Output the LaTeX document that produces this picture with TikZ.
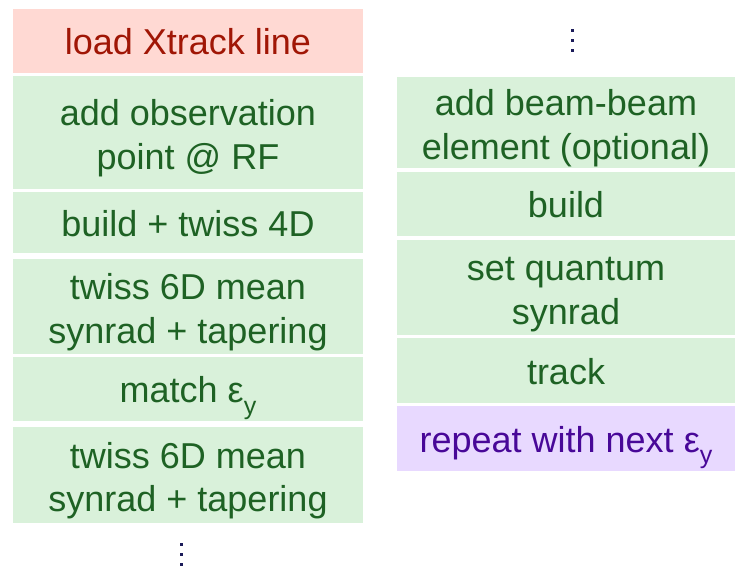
\documentclass[tikz,border=0pt]{standalone}
\usepackage{fontspec}
\setmainfont{Liberation Sans}
\definecolor{pinkfill}{RGB}{255,217,211}
\definecolor{redtext}{RGB}{160,22,5}
\definecolor{greenfill}{RGB}{217,241,218}
\definecolor{greentext}{RGB}{30,98,36}
\definecolor{lavfill}{RGB}{232,217,255}
\definecolor{purpletext}{RGB}{72,8,152}
\definecolor{dotnavy}{RGB}{28,28,90}
\newcommand{\epsy}{ε\raisebox{-0.32em}{\fontsize{25}{25}\selectfont y}}
\newcommand{\twol}[2]{\rule{0pt}{37pt}#1\\#2\rule[-7pt]{0pt}{7pt}}
\tikzset{
  stepbox/.style={rectangle, inner sep=0pt, align=center, font=\fontsize{36}{43.5}\selectfont},
  oneline/.style={text height=27pt, text depth=0pt},
  greenbox/.style={stepbox, fill=greenfill, text=greentext},
  leftcol/.style={minimum width=350pt},
  rightcol/.style={minimum width=338pt},
  dotsq/.style={fill=dotnavy}
}
\begin{document}
\begin{tikzpicture}[x=1pt,y=-1pt]
\useasboundingbox (0,0) rectangle (735,570);
% left column
\node[stepbox, oneline, leftcol, fill=pinkfill, text=redtext, minimum height=64pt] (l1) at (188,41) {load Xtrack line};
\node[greenbox, leftcol, minimum height=113pt] (l2) at (188,132.5) {\twol{add observation}{point @ RF}};
\node[greenbox, oneline, leftcol, minimum height=61pt] (l3) at (188,222.5) {build + twiss 4D};
\node[greenbox, leftcol, minimum height=95pt] (l4) at (188,306.5) {\twol{twiss 6D mean}{synrad + tapering}};
\node[greenbox, oneline, leftcol, minimum height=64pt] (l5) at (188,389) {match \epsy};
\node[greenbox, leftcol, minimum height=96pt] (l6) at (188,475) {\twol{twiss 6D mean}{synrad + tapering}};
% right column
\node[greenbox, rightcol, minimum height=91pt] (r1) at (566,122.5) {\twol{add beam-beam}{element (optional)}};
\node[greenbox, oneline, rightcol, minimum height=64pt] (r2) at (566,204) {build};
\node[greenbox, rightcol, minimum height=95pt] (r3) at (566,287.5) {\twol{set quantum}{synrad}};
\node[greenbox, oneline, rightcol, minimum height=65pt] (r4) at (566,370.5) {track};
\node[stepbox, oneline, rightcol, fill=lavfill, text=purpletext, minimum height=65pt] (r5) at (566,438.5) {repeat with next \epsy};
% vertical ellipses
\foreach \yy in {30,40,50} \fill[dotsq] (570.5,\yy-1.5) rectangle (573.5,\yy+1.5);
\foreach \yy in {544,554,564} \fill[dotsq] (179.5,\yy-1.5) rectangle (182.5,\yy+1.5);
\end{tikzpicture}
\end{document}
